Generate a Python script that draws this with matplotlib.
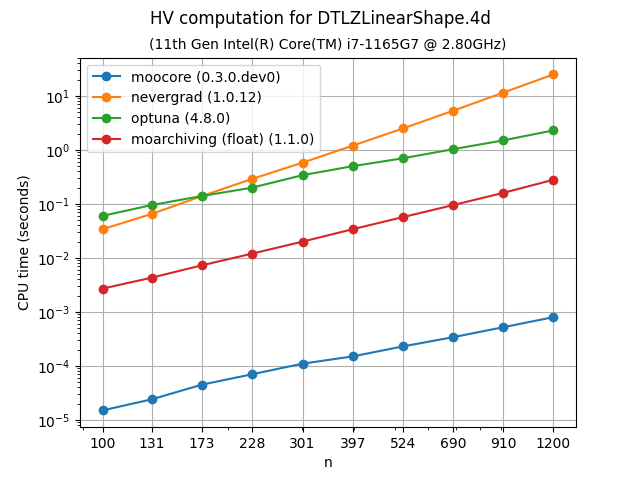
import matplotlib
matplotlib.use("Agg")
import matplotlib.pyplot as plt
from matplotlib.ticker import NullFormatter

n = [100, 131, 173, 228, 301, 397, 524, 690, 910, 1200]
moocore = [1.5e-5, 2.4e-5, 4.5e-5, 7e-5, 1.1e-4, 1.5e-4, 2.3e-4, 3.4e-4, 5.2e-4, 8e-4]
nevergrad = [0.034, 0.065, 0.14, 0.29, 0.58, 1.2, 2.5, 5.3, 11.5, 25]
optuna = [0.06, 0.095, 0.14, 0.2, 0.34, 0.5, 0.7, 1.03, 1.5, 2.3]
moarchiving = [0.0027, 0.0043, 0.0073, 0.012, 0.02, 0.034, 0.057, 0.095, 0.16, 0.28]

fig, ax = plt.subplots(figsize=(6.4, 4.8), dpi=100)
ax.plot(n, moocore, "o-", label="moocore (0.3.0.dev0)")
ax.plot(n, nevergrad, "o-", label="nevergrad (1.0.12)")
ax.plot(n, optuna, "o-", label="optuna (4.8.0)")
ax.plot(n, moarchiving, "o-", label="moarchiving (float) (1.1.0)")
ax.set_xscale("log")
ax.set_yscale("log")
ax.set_xticks(n)
ax.set_xticklabels([str(v) for v in n])
ax.xaxis.set_minor_formatter(NullFormatter())
ax.grid(True)
ax.set_xlabel("n")
ax.set_ylabel("CPU time (seconds)")
fig.suptitle("HV computation for DTLZLinearShape.4d")
ax.set_title("(11th Gen Intel(R) Core(TM) i7-1165G7 @ 2.80GHz)", fontsize=10)
ax.legend(loc="upper left")
fig.savefig("out.png")
